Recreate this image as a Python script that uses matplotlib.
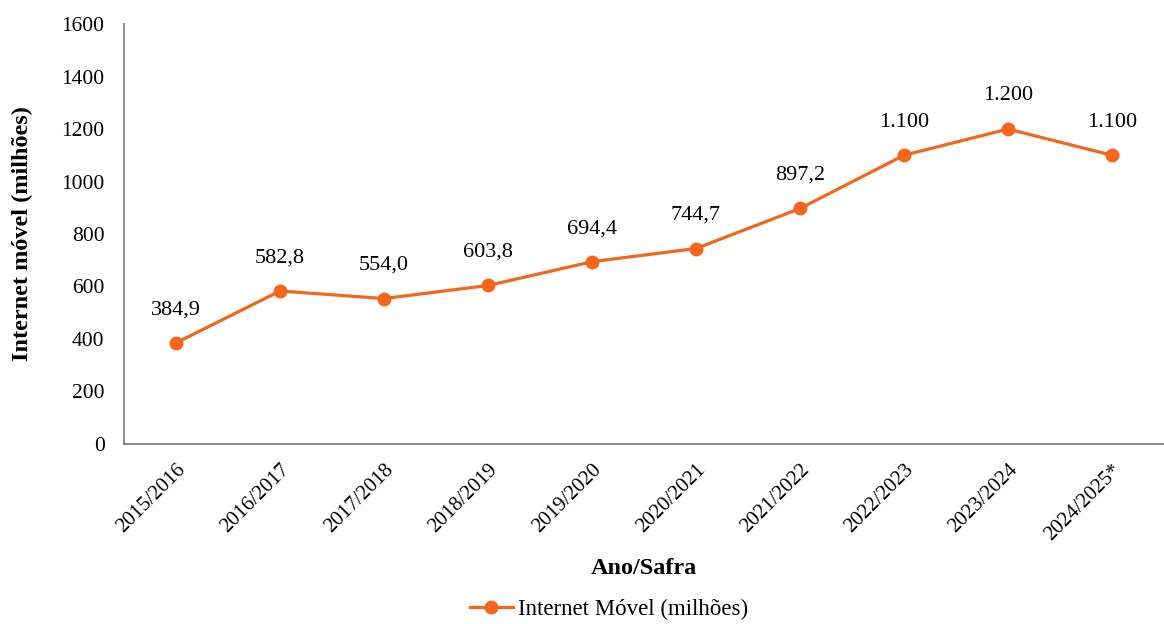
import matplotlib.pyplot as plt

safras = ['2015/2016', '2016/2017', '2017/2018', '2018/2019', '2019/2020',
          '2020/2021', '2021/2022', '2022/2023', '2023/2024', '2024/2025*']
internet = [384.9, 582.8, 554.0, 603.8, 694.4, 744.7, 897.2, 1100, 1200, 1100]
rotulos = ['384,9', '582,8', '554,0', '603,8', '694,4', '744,7', '897,2',
           '1.100', '1.200', '1.100']

plt.rcParams['font.family'] = ['Liberation Serif', 'DejaVu Serif']

fig = plt.figure(figsize=(11.64, 6.24), dpi=100)
ax = fig.add_axes([0.1065, 0.2885, 0.8935, 0.673])

cor = '#F4661B'
x = range(len(safras))
ax.plot(x, internet, color=cor, linewidth=2.3, marker='o', markersize=9,
        label='Internet Móvel (milhões)')

# rótulos de dados
for xi, v, r in zip(x, internet, rotulos):
    ax.annotate(r, (xi, v), xytext=(0, 17), textcoords='offset points',
                ha='center', va='bottom', fontsize=16)

ax.set_xlim(-0.5, len(safras) - 0.5)
ax.set_ylim(0, 1600)
ax.set_yticks(range(0, 1601, 200))
ax.set_xticks(list(x))
ax.set_xticklabels(safras, rotation=45, ha='right', rotation_mode='anchor')
ax.tick_params(axis='y', length=0, labelsize=15.5, pad=14)
ax.tick_params(axis='x', length=0, labelsize=15, pad=12)

for s in ['top', 'right']:
    ax.spines[s].set_visible(False)
for s in ['left', 'bottom']:
    ax.spines[s].set_color('#808080')
    ax.spines[s].set_linewidth(1.3)

ax.set_ylabel('Internet móvel (milhões)', fontsize=17.5, fontweight='bold', labelpad=20)
ax.set_xlabel('Ano/Safra', fontsize=17.5, fontweight='bold', labelpad=10)

fig.legend(loc='lower center', bbox_to_anchor=(0.523, -0.026), frameon=False,
           fontsize=16.5, handlelength=1.9, handletextpad=0.2)

fig.savefig('out.png', dpi=100)
